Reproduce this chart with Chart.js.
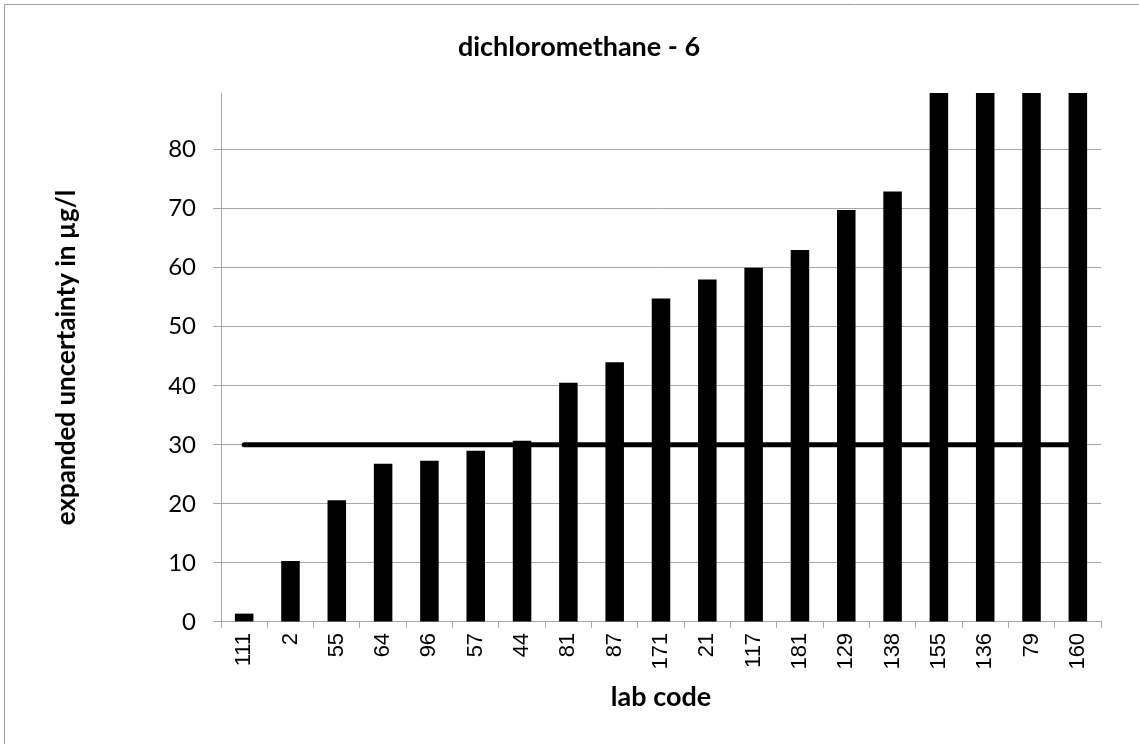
<!DOCTYPE html>
<html>
<head>
<meta charset="utf-8">
<script src="https://cdn.jsdelivr.net/npm/chart.js@4"></script>
<style>
  html, body { margin: 0; padding: 0; background: #fff; }
  #wrap { width: 1139px; height: 744px; }
</style>
</head>
<body>
<div id="wrap"><canvas id="chart"></canvas></div>
<script>
const labCodes = ["111", "2", "55", "64", "96", "57", "44", "81", "87", "171",
  "21", "117", "181", "129", "138", "155", "136", "79", "160"];
const uncertainty = [1.4, 10.3, 20.6, 26.8, 27.3, 29.0, 30.7, 40.5, 44.0, 54.8,
  58.0, 60.0, 63.0, 69.8, 72.9, 97, 110, 125, 160];
const limitValue = 30;
const yTicks = [0, 10, 20, 30, 40, 50, 60, 70, 80];

const gridGray = "#a6a6a6";

// chart title and the outer border are drawn by hand
const frame = {
  id: "frame",
  afterDraw(chart) {
    const ctx = chart.ctx;
    ctx.save();
    ctx.strokeStyle = "#a0a0a0";
    ctx.lineWidth = 1;
    ctx.beginPath();
    ctx.moveTo(4.5, 744);
    ctx.lineTo(4.5, 4.5);
    ctx.lineTo(1139, 4.5);
    ctx.stroke();
    ctx.fillStyle = "#000";
    ctx.font = "bold 27px Lato";
    ctx.textAlign = "center";
    ctx.textBaseline = "middle";
    ctx.fillText("dichloromethane - 6", 579, 47);
    ctx.restore();
  }
};

new Chart(document.getElementById("chart"), {
  type: "bar",
  data: {
    labels: labCodes,
    datasets: [
      {
        type: "bar",
        data: uncertainty,
        backgroundColor: "#000",
        barPercentage: 0.4,
        categoryPercentage: 1,
        order: 1
      },
      {
        type: "line",
        data: labCodes.map(() => limitValue),
        borderColor: "#000",
        borderWidth: 5,
        borderCapStyle: "round",
        pointRadius: 0,
        order: 2
      }
    ]
  },
  options: {
    responsive: true,
    maintainAspectRatio: false,
    animation: false,
    layout: { padding: { top: 93, left: 4, right: 38, bottom: 31 } },
    plugins: {
      legend: { display: false },
      title: { display: false },
      tooltip: { enabled: false }
    },
    scales: {
      x: {
        offset: true,
        grid: { offset: true, drawOnChartArea: false, drawTicks: true, tickLength: 6, color: gridGray },
        border: { color: gridGray },
        ticks: {
          color: "#000",
          font: { family: "'Liberation Sans', Arial, sans-serif", size: 22 },
          minRotation: 90,
          maxRotation: 90,
          padding: 5,
          autoSkip: false
        },
        title: {
          display: true,
          text: "lab code",
          color: "#000",
          font: { family: "Lato", size: 27, weight: "bold" },
          padding: { top: 6, bottom: 0 }
        }
      },
      y: {
        min: 0,
        max: 89.6,
        afterBuildTicks: (scale) => {
          scale.ticks = yTicks.map(v => ({ value: v }));
        },
        afterFit: (scale) => { scale.width = 217; },
        grid: { color: gridGray, tickLength: 8 },
        border: { color: gridGray },
        ticks: {
          color: "#000",
          font: { family: "Lato", size: 24 },
          padding: 17
        },
        title: {
          display: true,
          text: "expanded uncertainty in µg/l",
          color: "#000",
          font: { family: "Lato", size: 26, weight: "bold" },
          padding: { top: 47, bottom: 0 }
        }
      }
    }
  },
  plugins: [frame]
});
</script>
</body>
</html>
